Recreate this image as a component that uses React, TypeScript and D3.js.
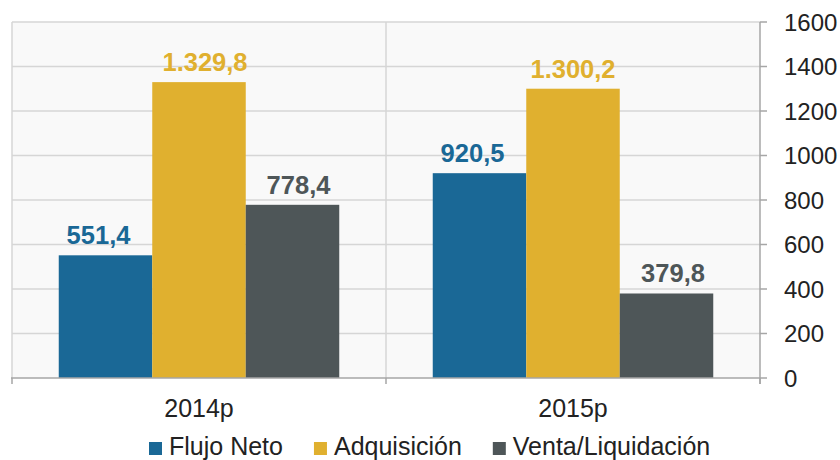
import React, { useEffect, useRef } from "react";
import * as d3 from "d3";

const categories = ["2014p", "2015p"];
const seriesNames = ["Flujo Neto", "Adquisición", "Venta/Liquidación"];
const flujoNeto = [551.4, 920.5];
const adquisicion = [1329.8, 1300.2];
const venta = [778.4, 379.8];
const seriesLabels = [["551,4", "920,5"], ["1.329,8", "1.300,2"], ["778,4", "379,8"]];
const yTicks = [0, 200, 400, 600, 800, 1000, 1200, 1400, 1600];
const colors = ["#1A6896", "#E0B02F", "#4E5658"];
// small horizontal nudges of the data labels, as in the original
const labelNudge = [[-7, -7], [6, 0], [6, 6.5]];

const W = 840, H = 460;
const plot = { left: 12, right: 760, top: 22, bottom: 378 };
const FONT = "'Liberation Sans', Arial, sans-serif";

export default function App() {
  const ref = useRef<SVGSVGElement>(null);
  useEffect(() => {
    const svg = d3.select(ref.current);
    svg.selectAll("*").remove();
    const values = [flujoNeto, adquisicion, venta];

    const x0 = d3.scaleBand().domain(categories).range([plot.left, plot.right]).paddingInner(0).paddingOuter(0);
    const x1 = d3.scaleBand().domain(seriesNames).range([0, x0.bandwidth()]).paddingOuter(0.5).paddingInner(0);
    const y = d3.scaleLinear().domain([0, 1600]).range([plot.bottom, plot.top]);

    svg.append("rect").attr("x", plot.left).attr("y", plot.top)
      .attr("width", plot.right - plot.left).attr("height", plot.bottom - plot.top)
      .attr("fill", "#F9F9F9");

    svg.append("g").selectAll("line").data(yTicks.filter(t => t > 0)).join("line")
      .attr("x1", plot.left).attr("x2", plot.right)
      .attr("y1", d => y(d)).attr("y2", d => y(d))
      .attr("stroke", "#D6D6D6").attr("stroke-width", 1.5);
    const vx = [plot.left, x0("2015p")!];
    svg.append("g").selectAll("line").data(vx).join("line")
      .attr("x1", d => d).attr("x2", d => d)
      .attr("y1", plot.top).attr("y2", plot.bottom)
      .attr("stroke", "#D6D6D6").attr("stroke-width", 1.5);

    values.forEach((vals, si) => {
      const g = svg.append("g");
      g.selectAll("rect").data(vals).join("rect")
        .attr("x", (d, i) => x0(categories[i])! + x1(seriesNames[si])!)
        .attr("y", d => y(d))
        .attr("width", x1.bandwidth())
        .attr("height", d => y(0) - y(d))
        .attr("fill", colors[si]);
      g.selectAll("text").data(vals).join("text")
        .attr("x", (d, i) => x0(categories[i])! + x1(seriesNames[si])! + x1.bandwidth() / 2 + labelNudge[si][i])
        .attr("y", d => y(d) - 11)
        .attr("text-anchor", "middle")
        .attr("font-family", FONT).attr("font-weight", "bold").attr("font-size", 25.5)
        .attr("fill", colors[si])
        .text((d, i) => seriesLabels[si][i]);
    });

    const axisColor = "#A6A6A6";
    svg.append("line").attr("x1", plot.right).attr("x2", plot.right)
      .attr("y1", plot.top).attr("y2", plot.bottom + 6)
      .attr("stroke", axisColor).attr("stroke-width", 1.5);
    svg.append("g").selectAll("line").data(yTicks).join("line")
      .attr("x1", plot.right).attr("x2", plot.right + 7)
      .attr("y1", d => y(d)).attr("y2", d => y(d))
      .attr("stroke", axisColor).attr("stroke-width", 1.5);
    svg.append("g").selectAll("text").data(yTicks).join("text")
      .attr("x", 784).attr("y", d => y(d) + 8.5)
      .attr("font-family", FONT).attr("font-size", 24).attr("fill", "#222")
      .text(d => String(d));

    svg.append("line").attr("x1", plot.left - 1).attr("x2", plot.right)
      .attr("y1", plot.bottom).attr("y2", plot.bottom)
      .attr("stroke", axisColor).attr("stroke-width", 1.5);
    const bx = [plot.left, x0("2015p")!, plot.right];
    svg.append("g").selectAll("line").data(bx).join("line")
      .attr("x1", d => d).attr("x2", d => d)
      .attr("y1", plot.bottom).attr("y2", plot.bottom + 6)
      .attr("stroke", axisColor).attr("stroke-width", 1.5);
    svg.append("g").selectAll("text").data(categories).join("text")
      .attr("x", d => x0(d)! + x0.bandwidth() / 2).attr("y", 417)
      .attr("text-anchor", "middle")
      .attr("font-family", FONT).attr("font-size", 25).attr("fill", "#222")
      .text(d => d);

    const lg = svg.append("g");
    let cx = 149;
    seriesNames.forEach((name, i) => {
      lg.append("rect").attr("x", cx).attr("y", 442).attr("width", 13).attr("height", 13).attr("fill", colors[i]);
      const t = lg.append("text").attr("x", cx + 20).attr("y", 455)
        .attr("font-family", FONT).attr("font-size", 25).attr("fill", "#222").text(name);
      const w = (t.node() as SVGTextElement).getComputedTextLength();
      cx = cx + 20 + w + 31;
    });
  }, []);
  return (
    <svg ref={ref} width={W} height={H} style={{ position: "absolute", left: 0, top: 0, background: "#fff" }} />
  );
}
